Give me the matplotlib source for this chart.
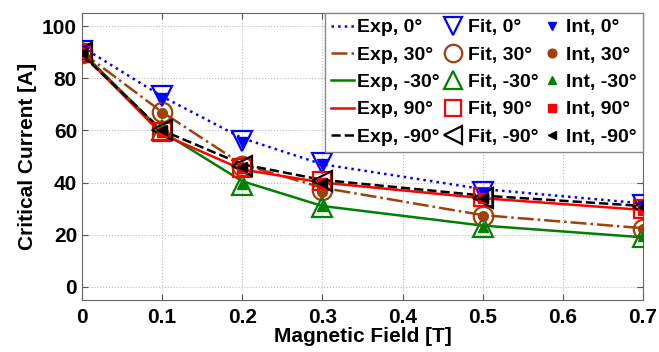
import matplotlib.pyplot as plt
import numpy as np

plt.rcParams['font.family'] = ['Liberation Sans', 'DejaVu Sans']
plt.rcParams['font.weight'] = 'bold'

campo = [0, 0.1, 0.2, 0.3, 0.5, 0.7]

exp_0 = [92, 73, 57, 47, 37.5, 32]
fit_0 = [90.5, 73, 56, 47.5, 36.5, 31.5]
int_0 = [90.5, 72.5, 55.5, 47, 36, 31]

exp_30 = [90, 67, 47, 38, 27.5, 22.5]
fit_30 = [89.5, 67, 46.5, 37, 27, 22]
int_30 = [89.5, 66.5, 46, 36.5, 27, 22]

exp_m30 = [90, 59.5, 40.5, 31, 23.5, 19]
fit_m30 = [90, 60, 39, 30.5, 23, 19]
int_m30 = [90, 60, 39.5, 31, 23, 19.5]

exp_90 = [89.5, 58.5, 45, 40, 34, 29.5]
fit_90 = [89.5, 59.5, 45.5, 40.5, 34.5, 30]
int_90 = [89.5, 59.5, 45.5, 40, 34, 29.5]

exp_m90 = [89, 60, 47, 41, 35, 31]
fit_m90 = [89.5, 60, 46.5, 40.5, 34, 30.5]
int_m90 = [89.5, 60, 46, 40, 34, 30.5]

angulos = ['0°', '30°', '-30°', '90°', '-90°']
colores = ['#0000ff', '#a0400a', '#008000', '#ff0000', '#000000']
estilos = [':', '-.', '-', '-', '--']
marcas_fit = ['v', 'o', '^', 's', '<']
tam_fit = [15, 14, 15, 13, 15]
marcas_int = ['v', 'o', '^', 's', '<']

exps = [exp_0, exp_30, exp_m30, exp_90, exp_m90]
fits = [fit_0, fit_30, fit_m30, fit_90, fit_m90]
ints = [int_0, int_30, int_m30, int_90, int_m90]

fig = plt.figure(figsize=(6.59, 3.52), dpi=100)
ax = fig.add_axes([0.1244, 0.148, 0.8513, 0.815])

h_exp, h_fit, h_int = [], [], []
for i in range(5):
    l, = ax.plot(campo, exps[i], estilos[i], color=colores[i], lw=1.8,
                 label='Exp, ' + angulos[i], zorder=2)
    h_exp.append(l)
for i in range(5):
    l, = ax.plot(campo, fits[i], linestyle='none', marker=marcas_fit[i],
                 markersize=tam_fit[i], markerfacecolor='none', markeredgecolor=colores[i],
                 markeredgewidth=1.6, label='Fit, ' + angulos[i], zorder=3)
    h_fit.append(l)
for i in range(5):
    l, = ax.plot(campo, ints[i], linestyle='none', marker=marcas_int[i],
                 markersize=7, color=colores[i], label='Int, ' + angulos[i], zorder=4)
    h_int.append(l)

ax.set_xlim(0, 0.7)
ax.set_ylim(-5, 105)
ax.set_xticks(np.arange(0, 0.71, 0.1))
ax.set_xticklabels(['0', '0.1', '0.2', '0.3', '0.4', '0.5', '0.6', '0.7'])
ax.set_yticks([0, 20, 40, 60, 80, 100])
ax.tick_params(direction='in', top=True, right=True, labelsize=15, length=4,
               color='#555555')
ax.tick_params(axis='x', pad=6)
for s in ax.spines.values():
    s.set_color('#666666')
ax.grid(True, linestyle=':', color='#bbbbbb', lw=0.8)

ax.set_xlabel('Magnetic Field [T]', fontsize=15, fontweight='bold', labelpad=0)
ax.set_ylabel('Critical Current [A]', fontsize=15, fontweight='bold', labelpad=4)

leg = ax.legend(handles=h_exp + h_fit + h_int, ncol=3, loc='upper right',
                bbox_to_anchor=(1, 1), borderaxespad=0, fontsize=14,
                handlelength=1.2, handletextpad=0.15, columnspacing=0.1,
                labelspacing=0.5, borderpad=0.3, fancybox=False, framealpha=1,
                markerscale=0.9)
leg.get_frame().set_edgecolor('#888888')

plt.savefig('out.png', dpi=100)
